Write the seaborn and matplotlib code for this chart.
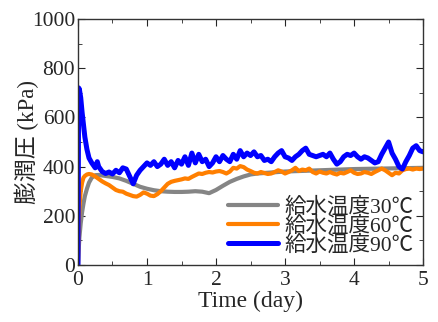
import pandas as pd
import matplotlib
matplotlib.use("Agg")
import matplotlib.pyplot as plt
import seaborn as sns
from matplotlib.ticker import MultipleLocator

# ---- data ----
gray_time = [0, 0.01, 0.02, 0.04, 0.06, 0.08, 0.10, 0.13, 0.16, 0.20, 0.25, 0.30,
             0.40, 0.50, 0.60, 0.70, 0.80, 0.90, 1.00, 1.10, 1.20, 1.30, 1.40, 1.50,
             1.60, 1.70, 1.80, 1.90, 2.00, 2.10, 2.20, 2.30, 2.40, 2.50, 2.60, 2.80,
             3.00, 3.20, 3.40, 3.60, 3.80, 4.00, 4.20, 4.40, 4.60, 4.80, 5.00]
gray_kpa = [0, 60, 110, 170, 215, 250, 280, 310, 335, 355, 365, 366,
            362, 358, 352, 342, 330, 318, 310, 304, 300, 298, 297, 297,
            298, 300, 298, 292, 305, 322, 338, 350, 360, 368, 372, 376,
            380, 382, 384, 386, 388, 390, 391, 392, 393, 394, 395]

orange_time = [0, 0.01, 0.02, 0.04, 0.06, 0.08, 0.10, 0.13, 0.16, 0.20, 0.25, 0.30,
               0.35, 0.40, 0.45, 0.50, 0.55, 0.60, 0.65, 0.70, 0.75, 0.80, 0.85, 0.90,
               0.95, 1.00, 1.05, 1.10, 1.15, 1.20, 1.25, 1.30, 1.35, 1.40, 1.45, 1.50,
               1.55, 1.60, 1.65, 1.70, 1.75, 1.80, 1.85, 1.90, 1.95, 2.00, 2.05, 2.10,
               2.15, 2.20, 2.25, 2.30, 2.35, 2.40, 2.45, 2.50, 2.55, 2.60, 2.65, 2.70,
               2.75, 2.80, 2.85, 2.90, 2.95, 3.00, 3.05, 3.10, 3.15, 3.20, 3.25, 3.30,
               3.35, 3.40, 3.45, 3.50, 3.55, 3.60, 3.65, 3.70, 3.75, 3.80, 3.85, 3.90,
               3.95, 4.00, 4.05, 4.10, 4.15, 4.20, 4.25, 4.30, 4.35, 4.40, 4.45, 4.50,
               4.55, 4.60, 4.65, 4.70, 4.75, 4.80, 4.85, 4.90, 4.95, 5.00]
orange_kpa = [0, 150, 230, 300, 335, 355, 362, 368, 370, 368, 360, 350,
              340, 332, 325, 315, 305, 300, 298, 290, 285, 280, 278, 285,
              295, 290, 282, 280, 288, 300, 315, 330, 338, 342, 345, 348,
              352, 350, 358, 365, 372, 370, 375, 378, 376, 380, 382, 378,
              372, 380, 395, 392, 402, 398, 388, 382, 375, 372, 378, 374,
              370, 372, 378, 385, 380, 372, 378, 385, 395, 382, 388, 385,
              392, 378, 372, 380, 375, 372, 378, 372, 368, 375, 372, 378,
              385, 375, 370, 372, 378, 375, 370, 378, 385, 392, 385, 375,
              365, 375, 372, 385, 390, 392, 388, 392, 390, 392]

blue_time = [0, 0.01, 0.02, 0.04, 0.06, 0.08, 0.10, 0.13, 0.16, 0.20, 0.25, 0.28,
             0.30, 0.35, 0.40, 0.45, 0.50, 0.55, 0.60, 0.65, 0.70, 0.75, 0.80, 0.85,
             0.90, 0.95, 1.00, 1.05, 1.10, 1.15, 1.20, 1.25, 1.30, 1.35, 1.40, 1.45,
             1.50, 1.55, 1.60, 1.65, 1.70, 1.75, 1.80, 1.85, 1.90, 1.95, 2.00, 2.05,
             2.10, 2.15, 2.20, 2.25, 2.30, 2.35, 2.40, 2.45, 2.50, 2.55, 2.60, 2.65,
             2.70, 2.75, 2.80, 2.85, 2.90, 2.95, 3.00, 3.05, 3.10, 3.15, 3.20, 3.25,
             3.30, 3.35, 3.40, 3.45, 3.50, 3.55, 3.60, 3.65, 3.70, 3.75, 3.80, 3.85,
             3.90, 3.95, 4.00, 4.05, 4.10, 4.15, 4.20, 4.25, 4.30, 4.35, 4.40, 4.45,
             4.50, 4.55, 4.60, 4.65, 4.70, 4.75, 4.80, 4.85, 4.90, 4.95, 5.00]
blue_kpa = [0, 720, 715, 680, 620, 570, 520, 470, 435, 415, 395, 420,
            400, 380, 372, 378, 370, 385, 375, 395, 390, 360, 330, 365,
            385, 400, 415, 405, 420, 400, 410, 430, 405, 420, 395, 425,
            410, 440, 405, 455, 415, 450, 420, 430, 400, 415, 440, 420,
            445, 430, 420, 450, 430, 465, 440, 455, 445, 460, 440, 445,
            425, 430, 420, 440, 455, 465, 440, 435, 425, 440, 450, 465,
            475, 450, 445, 440, 445, 450, 440, 455, 430, 410, 420, 440,
            450, 445, 455, 440, 430, 440, 435, 425, 415, 420, 450, 475,
            500, 455, 430, 400, 390, 420, 445, 475, 485, 465, 460]

labels = ["給水温度30℃", "給水温度60℃", "給水温度90℃"]
colors = ["#858585", "#ff7f00", "#0000ff"]
widths = [3, 3, 3.6]

sns.set_style("ticks")
plt.rcParams['font.family'] = ['Liberation Serif', 'Noto Sans CJK JP', 'DejaVu Sans']

fig, ax = plt.subplots(figsize=(4.38, 3.22), dpi=100)
fig.subplots_adjust(left=0.178, right=0.966, top=0.941, bottom=0.177)

series = [(gray_time, gray_kpa), (orange_time, orange_kpa), (blue_time, blue_kpa)]
for (t, v), lab, c, w in zip(series, labels, colors, widths):
    df = pd.DataFrame({'time': t, 'kpa': v})
    sns.lineplot(data=df, x='time', y='kpa', ax=ax, color=c, linewidth=w,
                 label=lab, estimator=None, sort=False)

ax.set_xlim(0, 5)
ax.set_ylim(0, 1000)
ax.xaxis.set_major_locator(MultipleLocator(1))
ax.xaxis.set_minor_locator(MultipleLocator(0.5))
ax.yaxis.set_major_locator(MultipleLocator(200))
ax.yaxis.set_minor_locator(MultipleLocator(100))
ax.tick_params(which='both', direction='in', top=True, right=True, labelsize=15.5)
ax.tick_params(axis='y', pad=2)
ax.tick_params(axis='x', pad=4)
ax.tick_params(which='major', length=5)
ax.tick_params(which='minor', length=3)
for s in ax.spines.values():
    s.set_linewidth(1.0)
    s.set_color('#333333')

ax.set_xlabel('Time (day)', fontsize=17, labelpad=1)
ax.set_ylabel('膨潤圧 (kPa)', fontsize=16.5, labelpad=-5)

leg = ax.legend(loc='lower right', frameon=False, fontsize=15.5,
                handlelength=2.3, handletextpad=0.3, labelspacing=-0.08,
                borderaxespad=0.05, bbox_to_anchor=(1.0, 0.0))

fig.savefig('out.png', dpi=100)
